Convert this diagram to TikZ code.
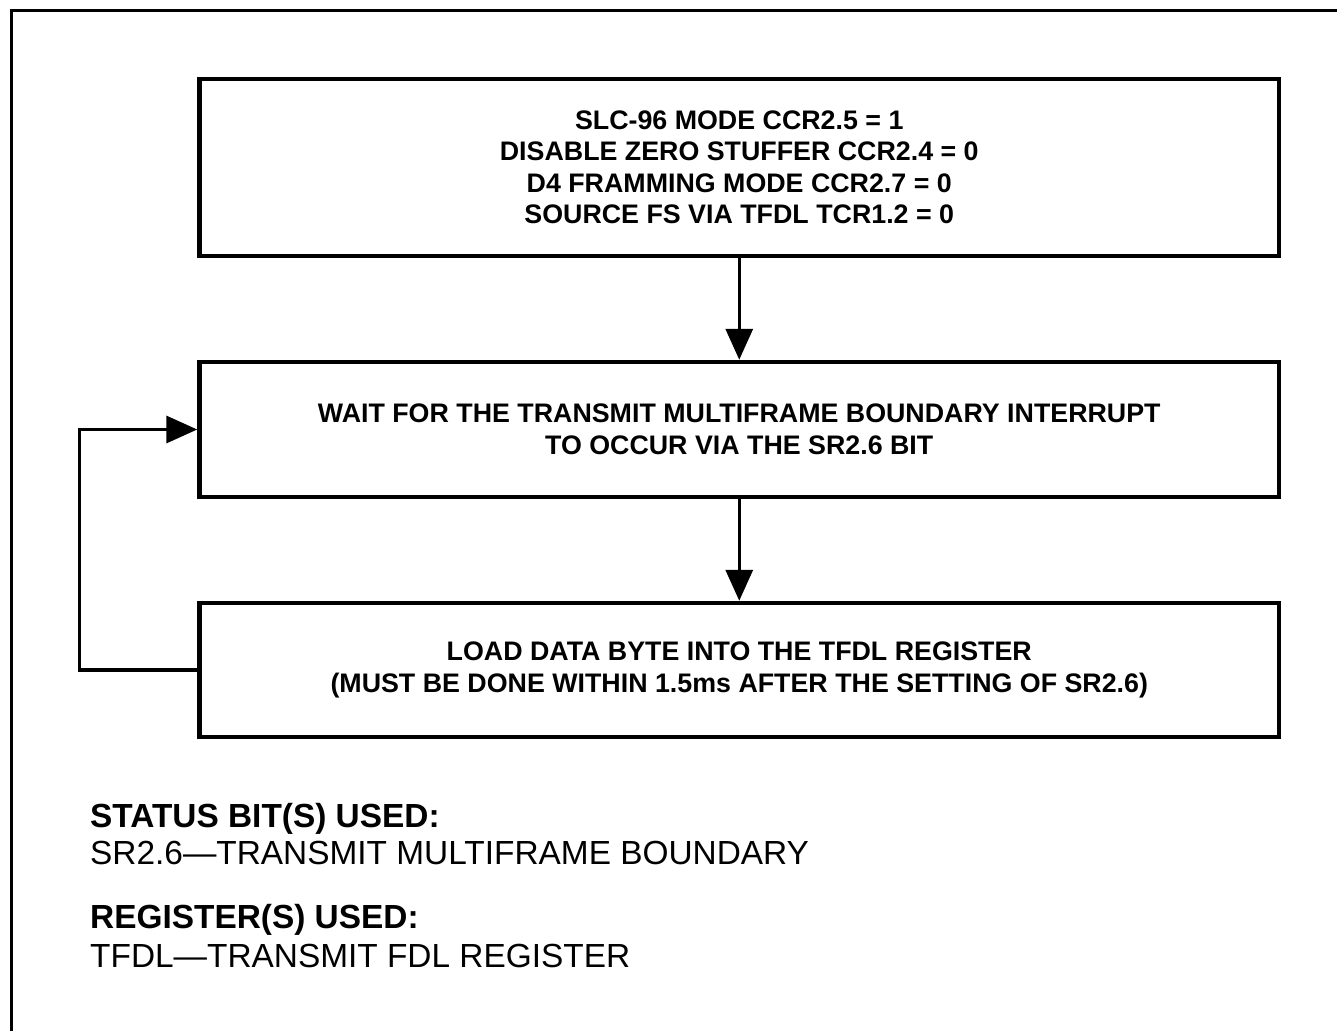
\documentclass[tikz,border=0pt]{standalone}
\usepackage{fontspec}
\setmainfont{Liberation Sans}
\usetikzlibrary{arrows.meta}
\begin{document}
\begin{tikzpicture}[x=1pt,y=-1pt,
  box/.style={draw, line width=4.5pt, minimum width=1079.5pt, inner sep=0pt, align=center,
    font=\bfseries\fontsize{26.8}{31.5}\selectfont},
  conn/.style={line width=3.5pt, -{Triangle[length=31pt,width=27pt]}},
  frameline/.style={line width=2.2pt},
  note/.style={anchor=base west, inner sep=0pt, font=\fontsize{33.4}{40}\selectfont},
  notehead/.style={note, font=\bfseries\fontsize{33.4}{40}\selectfont}]
\useasboundingbox (0,0) rectangle (1337,1030);
\clip (0,0) rectangle (1337,1030);
\fill[white] (0,0) rectangle (1337,1030);
\draw[frameline] (11.5,1100) -- (11.5,10.5) -- (1400,10.5);

\node[box, minimum height=177pt] (b1) at (739.25,167.5)
  {SLC-96 MODE CCR2.5 = 1\\DISABLE ZERO STUFFER CCR2.4 = 0\\D4 FRAMMING MODE CCR2.7 = 0\\SOURCE FS VIA TFDL TCR1.2 = 0};
\node[box, minimum height=135pt] (b2) at (739.25,429.5)
  {WAIT FOR THE TRANSMIT MULTIFRAME BOUNDARY INTERRUPT\\TO OCCUR VIA THE SR2.6 BIT};
\node[box, minimum height=134pt] (b3) at (739.25,670)
  {LOAD DATA BYTE INTO THE TFDL REGISTER\\(MUST BE DONE WITHIN 1.5ms AFTER THE SETTING OF SR2.6)};

\coordinate (fbx) at (79.5,0);
\draw[conn] (b1) -- (b2);
\draw[conn] (b2) -- (b3);
\draw[conn] (b3.west) -- (b3.west -| fbx) |- (b2.west);

\node[notehead] (h1) at (90,827) {STATUS BIT(S) USED:};
\node[note] (t1) at (90,864) {SR2.6—TRANSMIT MULTIFRAME BOUNDARY};
\node[notehead] (h2) at (90,928) {REGISTER(S) USED:};
\node[note] (t2) at (90,967) {TFDL—TRANSMIT FDL REGISTER};
\end{tikzpicture}
\end{document}
